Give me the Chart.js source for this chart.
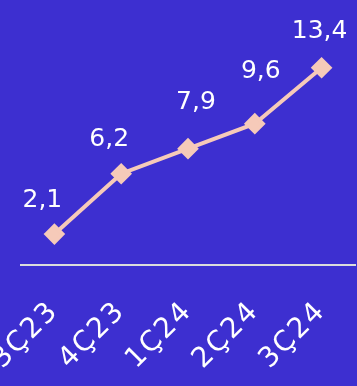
<!DOCTYPE html>
<html>
<head>
<meta charset="utf-8">
<script src="https://cdn.jsdelivr.net/npm/chart.js@4/dist/chart.umd.min.js"></script>
<style>
  html, body { margin: 0; padding: 0; background: #3d2fd0; }
  #wrap { width: 357px; height: 386px; }
</style>
</head>
<body>
<div id="wrap"><canvas id="grafico"></canvas></div>
<script>
const quarters = ['3Ç23', '4Ç23', '1Ç24', '2Ç24', '3Ç24']
const values = [2.1, 6.2, 7.9, 9.6, 13.4]

// small nudges of each value label from its point (the original isn't regular)
const labelNudge = [[-12, -34], [-12, -34], [8, -46], [6, -52], [-2, -36]]

// the quarter labels are spaced out a bit in the original
const spacing = {
  id: 'spacing',
  beforeLayout(chart) { chart.ctx.letterSpacing = '2px' },
  beforeDraw(chart) { chart.ctx.letterSpacing = '2px' }
}

// writes the value over each point, with a comma as decimal sign
const valueLabels = {
  id: 'valueLabels',
  afterDatasetsDraw(chart) {
    const ctx = chart.ctx
    const meta = chart.getDatasetMeta(0)
    ctx.save()
    ctx.letterSpacing = '0px'
    ctx.fillStyle = '#ffffff'
    ctx.font = '25px "DejaVu Sans"'
    ctx.textAlign = 'center'
    ctx.textBaseline = 'middle'
    meta.data.forEach((pt, i) => {
      const txt = values[i].toFixed(1).replace('.', ',')
      ctx.fillText(txt, pt.x + labelNudge[i][0], pt.y + labelNudge[i][1])
    })
    ctx.restore()
  }
}

new Chart(document.getElementById('grafico'), {
  type: 'line',
  data: {
    labels: quarters,
    datasets: [{
      data: values,
      borderColor: '#f6cab9',
      backgroundColor: '#f6cab9',
      borderWidth: 4,
      pointStyle: 'rectRot',
      pointRadius: 8,
      pointHoverRadius: 8,
      tension: 0
    }]
  },
  options: {
    responsive: true,
    maintainAspectRatio: false,
    animation: false,
    layout: { padding: 0, autoPadding: false },
    plugins: { legend: { display: false }, tooltip: { enabled: false } },
    scales: {
      y: { display: false, min: 0, max: 18 },
      x: {
        offset: true,
        grid: { display: false },
        border: { display: true, color: '#dcdcdc', width: 2 },
        ticks: {
          color: '#ffffff',
          font: { family: 'DejaVu Sans', size: 28 },
          minRotation: 45,
          maxRotation: 45,
          padding: 22
        },
        afterFit(scale) {
          // let the first label run off the left edge like the original
          scale.height = 121
          scale.paddingLeft = 21
          scale.paddingRight = 2
        }
      }
    }
  },
  plugins: [spacing, valueLabels]
})
</script>
</body>
</html>
